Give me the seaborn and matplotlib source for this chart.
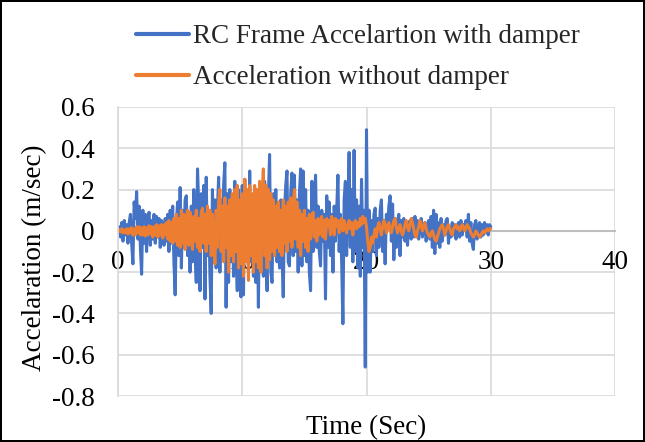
import numpy as np
import pandas as pd
import matplotlib
matplotlib.use("Agg")
import matplotlib.pyplot as plt
import seaborn as sns
from matplotlib.ticker import FuncFormatter

# ---- data (time step 0.1 s, 0 .. 30 s) ----
time_s = [round(i * 0.1, 1) for i in range(301)]

acc_with_damper = [
    0.00, 0.02, -0.03, 0.04, -0.05, 0.05, -0.02, 0.03, -0.06, 0.04,
    0.08, -0.06, -0.16, 0.14, 0.06, 0.19, -0.04, 0.12, -0.08, -0.21,
    0.10, -0.06, 0.08, -0.10, 0.06, 0.09, -0.07, 0.05, -0.04, 0.08,
    -0.06, 0.07, -0.03, 0.06, -0.08, 0.05, 0.03, -0.07, 0.06, -0.05,
    0.08, -0.10, 0.10, -0.06, 0.12, -0.15, -0.31, 0.05, 0.14, -0.12,
    0.21, -0.18, 0.10, -0.08, 0.15, 0.17, -0.12, 0.09, -0.20, 0.12,
    -0.15, 0.20, -0.10, -0.25, 0.30, 0.12, -0.29, 0.18, -0.08, 0.22,
    -0.33, 0.26, -0.12, 0.10, -0.22, -0.40, 0.20, -0.05, 0.15, -0.18,
    0.10, 0.26, -0.20, 0.15, -0.10, 0.22, 0.33, -0.37, 0.18, -0.25,
    0.20, -0.15, 0.12, -0.22, 0.24, -0.10, -0.29, 0.20, -0.18, -0.32,
    0.22, -0.31, 0.25, -0.10, 0.18, -0.20, 0.29, -0.15, 0.10, -0.22,
    0.18, -0.25, 0.12, -0.37, 0.20, -0.10, 0.15, -0.22, 0.24, -0.12,
    -0.29, 0.16, 0.37, -0.20, -0.25, 0.18, -0.10, 0.20, -0.15, 0.12,
    -0.18, 0.15, -0.12, -0.32, 0.10, 0.22, 0.29, -0.15, -0.17, 0.18,
    0.28, -0.12, 0.27, -0.10, 0.15, -0.20, 0.18, 0.30, -0.17, 0.29,
    -0.12, 0.20, -0.15, 0.10, -0.20, -0.29, 0.24, -0.10, 0.15, 0.27,
    -0.08, 0.12, -0.10, -0.17, 0.10, -0.05, 0.08, -0.33, 0.17, -0.08,
    0.14, -0.12, 0.08, -0.20, 0.12, -0.05, 0.10, 0.27, -0.10, 0.08,
    -0.15, -0.45, 0.15, 0.24, -0.12, 0.10, 0.38, -0.08, 0.20, -0.15,
    0.39, -0.10, 0.15, -0.18, 0.12, -0.22, 0.25, -0.08, 0.10, -0.66,
    0.49, -0.20, 0.10, -0.20, 0.05, -0.10, 0.08, 0.11, -0.12, 0.06,
    -0.08, 0.10, 0.15, -0.10, 0.05, -0.16, 0.08, 0.02, 0.12, 0.17,
    -0.05, 0.13, -0.14, 0.06, -0.08, 0.04, 0.08, -0.12, 0.05, -0.03,
    0.06, -0.05, 0.04, -0.07, 0.03, 0.05, -0.04, 0.06, -0.03, 0.07,
    -0.02, 0.05, -0.04, 0.03, 0.06, -0.03, 0.02, 0.04, -0.05, 0.03,
    0.05, -0.04, 0.07, -0.08, 0.10, -0.11, 0.08, -0.06, 0.04, -0.08,
    0.06, -0.05, 0.03, -0.02, 0.05, 0.06, -0.06, 0.02, -0.03, 0.04,
    -0.02, 0.03, -0.04, 0.02, 0.04, -0.03, 0.05, -0.02, 0.03, 0.02,
    0.05, -0.03, 0.08, -0.05, 0.04, -0.06, -0.09, 0.03, 0.05, -0.04,
    0.02, 0.04, -0.03, 0.03, -0.02, 0.04, -0.01, 0.03, -0.02, 0.03,
    0.02,
]

acc_without_damper = [
    0.000, 0.005, -0.005, 0.010, -0.010, 0.005, -0.010, 0.010, -0.015, 0.010,
    -0.010, 0.015, -0.020, 0.010, -0.020, 0.020, -0.010, 0.020, -0.020, 0.015,
    -0.020, 0.020, -0.025, 0.015, -0.020, 0.025, -0.015, 0.020, -0.030, 0.020,
    -0.020, 0.030, -0.030, 0.025, -0.020, 0.030, -0.035, 0.030, -0.020, 0.040,
    -0.040, 0.050, -0.050, 0.040, -0.060, 0.060, -0.050, 0.080, -0.070, 0.060,
    -0.08, 0.10, -0.06, 0.08, -0.09, 0.05, 0.10, -0.07, 0.09, -0.04,
    -0.09, 0.07, -0.05, 0.10, -0.08, 0.06, -0.10, 0.09, 0.11, -0.06,
    0.08, -0.10, 0.12, -0.06, 0.10, -0.12, 0.08, -0.05, -0.16, 0.10,
    -0.08, 0.14, 0.20, -0.10, 0.12, -0.15, 0.16, -0.08, 0.12, -0.20,
    0.15, -0.12, 0.18, -0.15, 0.20, -0.10, 0.22, -0.18, 0.15, -0.16,
    0.18, -0.22, 0.25, -0.15, 0.20, -0.24, 0.22, -0.12, 0.18, -0.20,
    0.22, -0.15, 0.20, -0.18, 0.24, -0.20, 0.18, 0.30, -0.12, 0.22,
    -0.18, 0.20, -0.14, 0.18, -0.10, 0.15, -0.12, 0.12, -0.08, 0.14,
    -0.10, 0.10, -0.12, 0.15, -0.06, 0.12, -0.10, 0.14, -0.05, 0.16,
    -0.08, 0.12, 0.20, -0.04, 0.14, -0.08, 0.10, -0.12, 0.08, -0.05,
    0.10, -0.08, 0.06, -0.10, 0.08, -0.04, 0.06, 0.09, -0.03, 0.05,
    -0.05, 0.06, -0.02, 0.04, 0.07, -0.03, 0.05, -0.04, 0.06, 0.02,
    0.05, -0.02, 0.07, 0.03, -0.02, 0.06, 0.02, 0.05, -0.01, 0.04,
    0.06, 0.00, 0.05, 0.02, -0.01, 0.03, 0.05, 0.01, 0.04, -0.02,
    0.03, 0.05, 0.01, 0.04, 0.02, 0.06, 0.03, 0.07, 0.04, 0.06,
    0.02, -0.05, -0.10, -0.08, -0.03, -0.06, -0.02, 0.01, -0.03, 0.02,
    0.04, 0.01, -0.02, 0.02, 0.05, 0.03, -0.01, 0.02, 0.04, 0.01,
    -0.01, 0.02, 0.05, 0.06, 0.02, -0.01, 0.01, 0.03, 0.00, -0.02,
    0.00, 0.03, 0.05, 0.02, 0.00, 0.03, 0.06, 0.04, 0.01, -0.02,
    -0.03, 0.00, 0.02, 0.05, 0.03, 0.00, 0.02, 0.04, 0.01, -0.01,
    -0.02, -0.03, -0.01, 0.00, -0.02, -0.04, -0.05, -0.03, -0.01, 0.01,
    0.02, 0.03, 0.01, -0.02, 0.00, 0.02, 0.03, 0.01, -0.01, -0.02,
    0.01, 0.02, 0.03, 0.01, 0.02, 0.00, 0.01, 0.03, 0.02, 0.00,
    0.01, 0.03, 0.02, 0.01, -0.01, -0.02, -0.03, -0.02, 0.00, -0.01,
    -0.02, -0.03, -0.02, -0.01, 0.00, -0.01, 0.00, 0.01, 0.00, 0.01,
    0.01,
]

series_names = ["RC Frame Accelartion with damper", "Acceleration without damper"]
series_colors = ["#4472C4", "#ED7D31"]
x_ticks = [0, 10, 20, 30, 40]
y_ticks = [-0.8, -0.6, -0.4, -0.2, 0, 0.2, 0.4, 0.6]

df = pd.concat([
    pd.DataFrame({"Time": time_s, "Acc": acc_with_damper, "Series": series_names[0]}),
    pd.DataFrame({"Time": time_s, "Acc": acc_without_damper, "Series": series_names[1]}),
], ignore_index=True)

sns.set_theme(style="white")
plt.rcParams["font.family"] = ["Liberation Serif", "DejaVu Serif"]
plt.rcParams["axes.unicode_minus"] = False

FS = 19.5
fig = plt.figure(figsize=(6.45, 4.42), dpi=100, facecolor="white",
                 edgecolor="black", linewidth=1.5)
ax = fig.add_axes([118 / 645, 1 - 396 / 442, (615 - 118) / 645, (396 - 107) / 442])

sns.lineplot(data=df, x="Time", y="Acc", hue="Series", hue_order=series_names,
             palette=series_colors, estimator=None, sort=False, linewidth=2.2,
             ax=ax, legend=False)

ax.set_xlim(0, 40)
ax.set_ylim(-0.8, 0.6)
ax.set_xticks(x_ticks)
ax.set_yticks(y_ticks)
ax.yaxis.set_major_formatter(FuncFormatter(lambda v, p: "0" if abs(v) < 1e-9 else f"{v:.1f}"))
ax.xaxis.set_major_formatter(FuncFormatter(lambda v, p: f"{int(round(v))}"))
ax.grid(True, color="#d9d9d9", linewidth=1.2)
ax.set_axisbelow(True)

for s in ["top", "right"]:
    ax.spines[s].set_visible(False)
ax.spines["left"].set_color("#d9d9d9")
ax.spines["left"].set_linewidth(1.2)
ax.spines["bottom"].set_position(("data", 0))
ax.spines["bottom"].set_color("#bfbfbf")
ax.spines["bottom"].set_linewidth(1.5)
ax.spines["bottom"].set_zorder(1)

ax.tick_params(axis="both", length=0, labelsize=FS, colors="black")
ax.tick_params(axis="y", pad=17)
ax.tick_params(axis="x", pad=14)

ax.set_xlabel("Time (Sec)", fontsize=FS, color="black")
ax.set_ylabel("Accelaration (m/sec)", fontsize=FS, color="black")
ax.xaxis.set_label_coords(0.5, -0.066)
ax.yaxis.set_label_coords(-0.142, 0.48)

handles = [plt.Line2D([], [], color=c, linewidth=3) for c in series_colors]
fig.legend(handles, series_names, loc="upper left",
           bbox_to_anchor=(136 / 645, 1 - 24 / 442), frameon=False,
           fontsize=FS, handlelength=1.95, handletextpad=0.15,
           labelspacing=0.6, borderpad=0, borderaxespad=0)

fig.savefig("out.png", dpi=100)
